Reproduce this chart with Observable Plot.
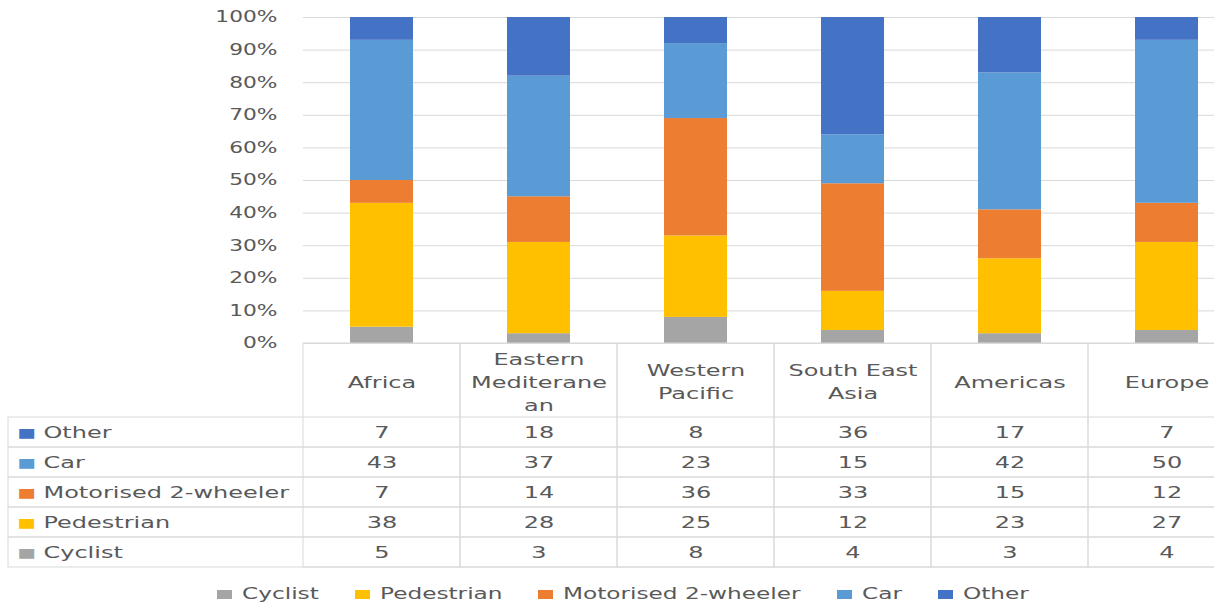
<!DOCTYPE html>
<html>
<head>
<meta charset="utf-8">
<script src="https://cdn.jsdelivr.net/npm/d3@7"></script>
<script src="https://cdn.jsdelivr.net/npm/@observablehq/plot@0.6"></script>
<style>
  html, body { margin: 0; padding: 0; background: #fff; overflow: hidden; }
  #root { position: relative; width: 1214px; height: 604px; overflow: hidden; background: #fff;
          font-family: "DejaVu Sans", sans-serif; color: #595959; }
  #chart { position: absolute; left: 0; top: 0; }
  #table { position: absolute; left: 0; top: 330px; }
  #legend { position: absolute; left: 217px; top: 584px; height: 20px; display: flex; align-items: center;
            font-size: 16px; line-height: 20px; white-space: nowrap; }
  #legend .item { display: flex; align-items: center; }
  #legend .sw { display: inline-block; width: 15px; height: 9px; margin-right: 10px; }
  #legend .lb { display: inline-block; transform-origin: left center; }
</style>
</head>
<body>
<div id="root">
  <div id="chart"></div>
  <div id="table"></div>
  <div id="legend"></div>
</div>
<script>
// ---- data ----
const regions = ["Africa", "Eastern Mediteranean", "Western Pacific", "South East Asia", "Americas", "Europe"];
const regionLabels = ["Africa", "Eastern\nMediterane\nan", "Western\nPacific", "South East\nAsia", "Americas", "Europe"];
const seriesNames = ["Cyclist", "Pedestrian", "Motorised 2-wheeler", "Car", "Other"]; // bottom to top
const seriesColors = ["#A5A5A5", "#FFC000", "#ED7D31", "#5B9BD5", "#4472C4"];
const cyclist    = [5, 3, 8, 4, 3, 4];
const pedestrian = [38, 28, 25, 12, 23, 27];
const motorised  = [7, 14, 36, 33, 15, 12];
const car        = [43, 37, 23, 15, 42, 50];
const other      = [7, 18, 8, 36, 17, 7];
const yTicks = [0, 10, 20, 30, 40, 50, 60, 70, 80, 90, 100];

const seriesValues = [cyclist, pedestrian, motorised, car, other];
const rows = [];
seriesNames.forEach((s, i) => regions.forEach((r, j) => rows.push({series: s, region: r, value: seriesValues[i][j]})));
const tableOrder = seriesNames.slice().reverse(); // Other at top

const K = 1.45; // horizontal stretch of text to match the reference
function stretch(svg, k) {
  svg.querySelectorAll("text").forEach(t => {
    const tr = t.getAttribute("transform");
    t.setAttribute("transform", (tr ? tr + " " : "") + `scale(${k},1)`);
  });
}
const baseStyle = {fontFamily: "'DejaVu Sans', sans-serif", color: "#595959", background: "transparent"};

// ---- stacked bar chart ----
const chart = Plot.plot({
  width: 1214, height: 362,
  marginTop: 17, marginBottom: 19, marginLeft: 303, marginRight: 0,
  style: {...baseStyle, fontSize: "15px"},
  x: {domain: regions, range: [303, 1245], paddingInner: 0.6, paddingOuter: 0.3, axis: null},
  y: {domain: [0, 100], axis: null},
  color: {domain: seriesNames, range: seriesColors},
  marks: [
    Plot.gridY(yTicks, {stroke: "#D9D9D9", strokeOpacity: 1}),
    Plot.axisY(yTicks, {tickSize: 0, tickPadding: 26, tickFormat: d => d + "%", label: null, fill: "#595959"}),
    Plot.barY(rows, Plot.stackY({x: "region", y: "value", fill: "series", order: seriesNames}))
  ]
});
stretch(chart, K);
document.getElementById("chart").appendChild(chart);

// ---- data table ----
const table = Plot.plot({
  width: 1214, height: 250,
  marginTop: 87, marginBottom: 13, marginLeft: 303, marginRight: 0,
  style: {...baseStyle, fontSize: "16px"},
  x: {domain: regions, range: [303, 1245], padding: 0, axis: null},
  y: {domain: tableOrder, padding: 0, axis: null},
  color: {domain: seriesNames, range: seriesColors},
  marks: [
    // column borders (including header cells)
    Plot.cell(regions, {x: d => d, fill: "none", stroke: "#D9D9D9", insetTop: -74}),
    // row borders (including label column)
    Plot.cell(tableOrder, {y: d => d, fill: "none", stroke: "#D9D9D9", insetLeft: -295, insetRight: -40}),
    // header labels
    Plot.text(regions, {x: d => d, text: (d, i) => regionLabels[i], frameAnchor: "top", dy: -37,
                        lineAnchor: "middle", lineHeight: 1.44, fill: "#595959"}),
    // row swatches and labels
    Plot.text(tableOrder, {y: d => d, text: () => "■", fill: d => d, frameAnchor: "left", dx: -286, textAnchor: "start", fontSize: 13}),
    Plot.text(tableOrder, {y: d => d, text: d => d, frameAnchor: "left", dx: -260, textAnchor: "start", fill: "#595959"}),
    // values
    Plot.text(rows, {x: "region", y: "series", text: d => String(d.value), fill: "#595959"})
  ]
});
stretch(table, 1.5);
document.getElementById("table").appendChild(table);

// ---- legend ----
const legend = document.getElementById("legend");
seriesNames.forEach((s, i) => {
  const item = document.createElement("span");
  item.className = "item";
  const sw = document.createElement("span");
  sw.className = "sw";
  sw.style.background = seriesColors[i];
  const lb = document.createElement("span");
  lb.className = "lb";
  lb.textContent = s;
  item.appendChild(sw);
  item.appendChild(lb);
  legend.appendChild(item);
});
legend.querySelectorAll(".lb").forEach((lb, i, all) => {
  const w = lb.getBoundingClientRect().width;
  lb.style.transform = `scaleX(${K})`;
  lb.style.marginRight = (w * (K - 1) + (i < all.length - 1 ? 36 : 0)) + "px";
});
</script>
</body>
</html>
